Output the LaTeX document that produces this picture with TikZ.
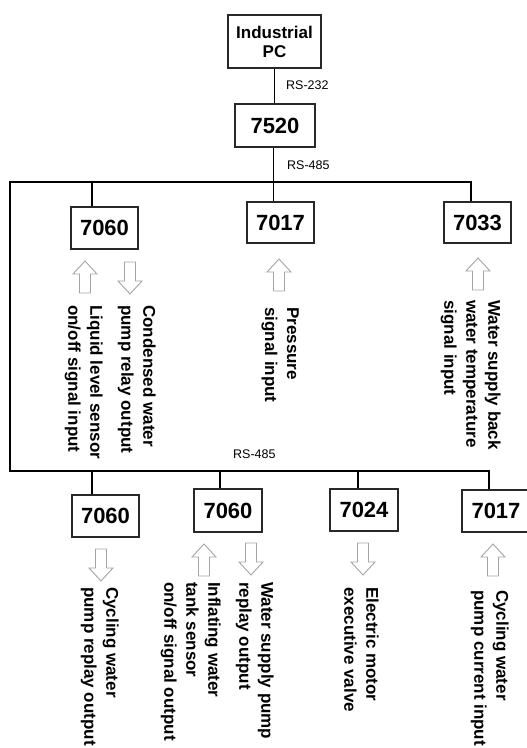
\documentclass[tikz,border=0pt]{standalone}
\usepackage{fontspec}
\setmainfont{Liberation Sans}
\usetikzlibrary{positioning,calc}
\definecolor{boxline}{RGB}{40,40,40}
\definecolor{arrowgray}{RGB}{165,165,165}

\begin{document}
\begin{tikzpicture}[x=1pt, y=-1pt,
    module/.style={draw=boxline, line width=1.2pt, minimum width=67pt, minimum height=42pt, inner sep=0pt, font=\fontsize{22}{24}\selectfont\bfseries},
    bus/.style={line width=1.2pt, black},
    busname/.style={font=\fontsize{12.5}{14}\selectfont, anchor=west, inner sep=0pt},
    signal/.style={rotate=-90, anchor=north west, align=left, inner sep=0pt, font=\fontsize{17}{22}\selectfont\bfseries},
    hollow/.style={draw=arrowgray, line width=0.9pt, fill=white},
    sig up/.pic={\draw[hollow] (-5.5,0) -- (-5.5,-19) -- (-12,-19) -- (0,-32) -- (12,-19) -- (5.5,-19) -- (5.5,0) -- cycle;},
    sig down/.pic={\draw[hollow] (-5.5,0) -- (-5.5,19) -- (-12,19) -- (0,32) -- (12,19) -- (5.5,19) -- (5.5,0) -- cycle;}]

    \useasboundingbox (0,0) rectangle (527,748);

    % PC and converter
    \node[module, minimum width=93pt, minimum height=53pt, align=center, font=\fontsize{17}{19}\selectfont\bfseries] (pc) at (274.5,41.5) {Industrial\\PC};
    \node[module, minimum width=80pt, minimum height=43pt] (m7520) at (275,125.5) {7520};

    \node[busname] (rs232) at (286,85) {RS-232};
    \node[busname] (rs485a) at (287,165) {RS-485};
    \node[busname] (rs485b) at (233,454) {RS-485};

    % Upper modules
    \node[module] (u1) at (104.5,228) {7060};
    \node[module, minimum height=41pt] (u2) at (280.5,222.5) {7017};
    \node[module, minimum height=41pt] (u3) at (477.5,222.5) {7033};

    % Lower modules
    \node[module] (l1) at (105.5,516) {7060};
    \node[module, minimum width=68pt, minimum height=43pt] (l2) at (228,510.5) {7060};
    \node[module, minimum width=68pt] (l3) at (364,510) {7024};
    \node[module, minimum width=68pt] (l4) at (496,511) {7017};

    % Bus lines
    \coordinate (topbus) at (10,182);
    \coordinate (lowbus) at (10,471);
    \coordinate (d2) at ([xshift=-1.5pt]m7520.south);
    \draw[bus] (pc.south) -- (pc.south |- m7520.north);
    \draw[bus] (d2) -- (d2 |- u2.north);
    \draw[bus] ([xshift=-6.5pt]u3.north) |- (topbus) -- (lowbus) -| ([xshift=-7pt]l4.north);
    \foreach \n/\dx/\b in {u1/-12.5/topbus, l1/-13.5/lowbus, l2/-8/lowbus, l3/-6/lowbus} {
        \coordinate (tap) at ([xshift=\dx pt]\n.north);
        \draw[bus] (tap) -- (tap |- \b);
    }

    % Signal arrows
    \pic at (85,293) {sig up};
    \pic at (130,262) {sig down};
    \pic at (279,291) {sig up};
    \pic at (478,290) {sig up};
    \pic at (101,549) {sig down};
    \pic at (204,576) {sig up};
    \pic at (251,543) {sig down};
    \pic at (363,543) {sig down};
    \pic at (493,576) {sig up};

    % Signal names
    \node[signal] (t1) at (103,305) {Liquid level sensor\\on/off signal input};
    \node[signal] (t2) at (156,305) {Condensed water\\pump relay output};
    \node[signal] (t3) at (299,307) {Pressure\\signal input};
    \node[signal] (t4) at (501,300) {Water supply back\\water temperature\\signal input};
    \node[signal] (t5) at (119,587) {Cycling water\\pump replay output};
    \node[signal] (t6) at (221,582) {Inflating water\\tank sensor\\on/off signal output};
    \node[signal] (t7) at (274,582) {Water supply pump\\replay output};
    \node[signal] (t8) at (379,587) {Electric motor\\executive valve};
    \node[signal] (t9) at (509,590) {Cycling water\\pump current input};

\end{tikzpicture}
\end{document}
